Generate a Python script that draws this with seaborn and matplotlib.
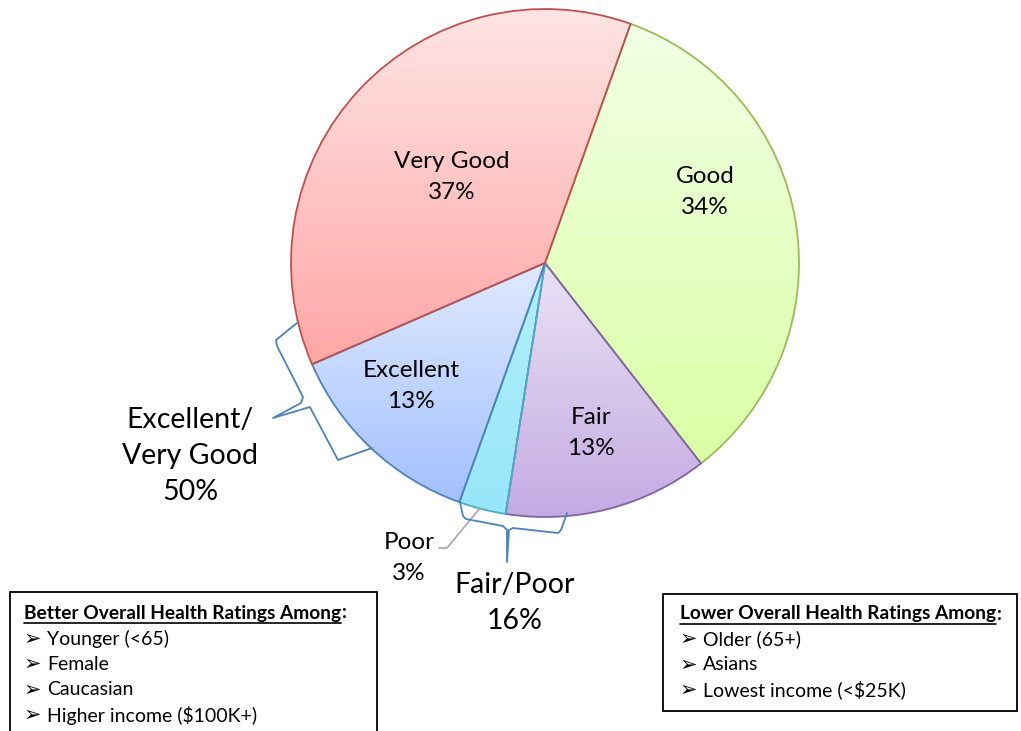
import numpy as np
import matplotlib
matplotlib.use("Agg")
import matplotlib.pyplot as plt
from matplotlib.colors import LinearSegmentedColormap
import seaborn as sns

# slice data, in clockwise order starting at the top
ratings = ["Good", "Fair", "Poor", "Excellent", "Very Good"]
shares = [34, 13, 3, 13, 37]
top_colors = ["#F2FFE4", "#EAE2F5", "#B4F0FC", "#E0EAFF", "#FFE4E4"]
bottom_colors = ["#DAFFA6", "#C4AAE2", "#96E6F8", "#A2C0FF", "#FFA6A6"]
edge_colors = ["#9BBB59", "#8064A2", "#4BACC6", "#4F81BD", "#C0504D"]

better_title = "Better Overall Health Ratings Among"
better_items = ["Younger (<65)", "Female", "Caucasian", "Higher income ($100K+)"]
lower_title = "Lower Overall Health Ratings Among"
lower_items = ["Older (65+)", "Asians", "Lowest income (<$25K)"]

W, H = 1021, 731
FONT = ["Lato", "DejaVu Sans"]

sns.set_theme(style="white")
plt.rcParams["font.family"] = FONT
plt.rcParams["text.color"] = "black"


def py(y):
    # pixel row -> data y (axis runs upward)
    return H - y


fig = plt.figure(figsize=(W / 100, H / 100), dpi=100)
ax = fig.add_axes([0, 0, 1, 1])

wedges, _ = ax.pie(shares, startangle=70.3, counterclock=False,
                   radius=254, center=(545, py(263)), frame=True)

# vertical gradient fill for each slice, clipped to the wedge
grad = np.linspace(0, 1, 256).reshape(-1, 1)
for w, c0, c1, ec in zip(wedges, top_colors, bottom_colors, edge_colors):
    bb = w.get_path().get_extents()
    cmap = LinearSegmentedColormap.from_list("g", [c0, c1])
    im = ax.imshow(grad, cmap=cmap, aspect="auto", origin="upper",
                   extent=(bb.x0, bb.x1, bb.y0, bb.y1), zorder=1)
    im.set_clip_path(w)
    w.set_facecolor("none")
    w.set_edgecolor(ec)
    w.set_linewidth(1.3)
    w.set_zorder(2)
ax.set_xlim(0, W)
ax.set_ylim(0, H)
ax.set_aspect("equal")
ax.axis("off")

share = dict(zip(ratings, shares))
label_pos = {"Very Good": (452, 177), "Good": (705, 192),
             "Excellent": (411, 386), "Fair": (591, 433)}
for name, (x, y) in label_pos.items():
    ax.text(x, py(y), f"{name}\n{share[name]}%", ha="center", va="center",
            fontsize=17.5, linespacing=1.55, zorder=5)

# Poor label with leader line
ax.text(409, py(558), f"Poor\n{share['Poor']}%", ha="center", va="center",
        fontsize=17.5, linespacing=1.6, zorder=5)
ax.plot([439, 447, 480], [py(548), py(548), py(508)], color="#A6A6A6",
        lw=1.2, zorder=4)

# braces for combined groups
brace_col = "#4F81BD"
bx = [297, 276, 277, 303, 301, 273, 310, 312, 338, 372]
by = [323, 340, 346, 397, 403, 418, 407, 411, 460, 448]
ax.plot(bx, [py(v) for v in by], color=brace_col, lw=1.3, zorder=4)
cx = [460, 463, 466, 503, 507, 507, 509, 513, 558, 561, 567]
cy = [502, 516, 519, 526, 530, 562, 530, 528, 533, 530, 513]
ax.plot(cx, [py(v) for v in cy], color=brace_col, lw=1.3, zorder=4)

top_group = share["Excellent"] + share["Very Good"]
low_group = share["Fair"] + share["Poor"]
ax.text(190, py(456), f"Excellent/\nVery Good\n{top_group}%", ha="center",
        va="center", fontsize=20.5, linespacing=1.5, zorder=5)
ax.text(515, py(603), f"Fair/Poor\n{low_group}%", ha="center",
        va="center", fontsize=20.5, linespacing=1.5, zorder=5)


def note_box(x0, y0, x1, y1, title, items, tx, ty, step):
    ax.add_patch(plt.Rectangle((x0, py(y1)), x1 - x0, y1 - y0, fill=False,
                               edgecolor="black", lw=1.3, zorder=3))
    t = ax.text(tx, py(ty), title, ha="left", va="center", fontsize=13.8,
                fontweight="bold", zorder=5)
    fig.canvas.draw()
    ext = t.get_window_extent().transformed(ax.transData.inverted())
    ax.text(ext.x1 + 1, py(ty), ":", ha="left", va="center", fontsize=13.8,
            fontweight="bold", zorder=5)
    ax.plot([ext.x0, ext.x1], [py(ty + 10), py(ty + 10)], color="black",
            lw=1.2, zorder=5)
    for i, item in enumerate(items):
        yy = py(ty + step * (i + 1))
        ax.text(tx, yy, "\u27a2", ha="left", va="center", fontsize=15,
                family="DejaVu Sans", zorder=5)
        ax.text(tx + 23, yy, item, ha="left", va="center", fontsize=14,
                zorder=5)


note_box(10, 592, 377, 740, better_title, better_items, 24, 613, 25.6)
note_box(663, 594, 1017, 711, lower_title, lower_items, 680, 614, 25.3)

fig.savefig("out.png", dpi=100)
